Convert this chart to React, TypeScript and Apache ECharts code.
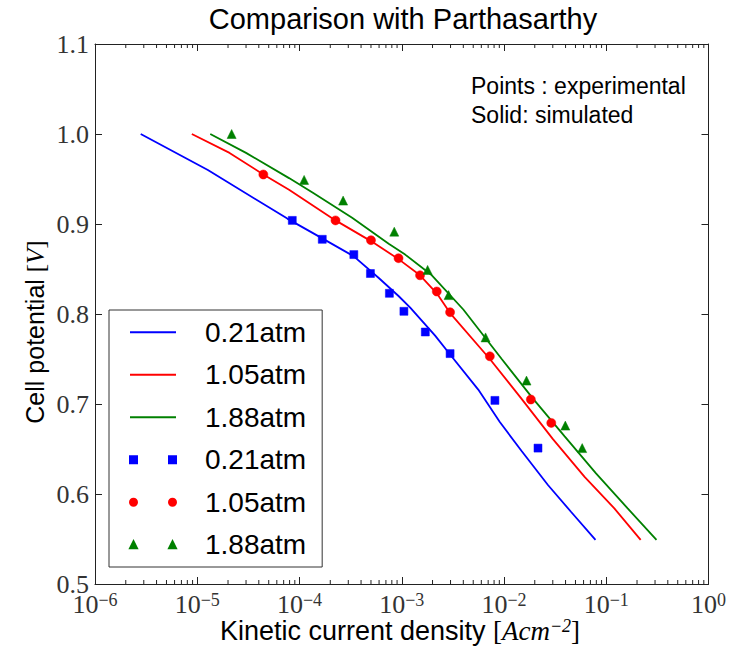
import React, { useEffect, useRef } from "react";
import * as echarts from "echarts";

const SANS = "'Liberation Sans', Arial, Helvetica, sans-serif";
const SERIF = "'Liberation Serif', 'Times New Roman', serif";

const pressureLabels = ["0.21atm", "1.05atm", "1.88atm"];
const seriesColors = ["#0000ff", "#ff0000", "#008000"];

// simulated curves [current density, potential]
const sim021: [number, number][] = [
  [2.8e-6, 1.0], [1.27e-5, 0.96], [7.6e-5, 0.906], [1.67e-4, 0.884], [3.4e-4, 0.864],
  [5.96e-4, 0.84], [9.3e-4, 0.82], [1.21e-3, 0.807], [2.12e-3, 0.776], [2.97e-3, 0.755],
  [5.6e-3, 0.716], [9.1e-3, 0.68], [0.0148, 0.648], [0.0269, 0.61], [0.0454, 0.58], [0.0785, 0.549],
];
const sim105: [number, number][] = [
  [8.85e-6, 1.0], [2.07e-5, 0.979], [4.43e-5, 0.955], [7.9e-5, 0.938], [2.25e-4, 0.904],
  [5.0e-4, 0.881], [9.3e-4, 0.861], [1.51e-3, 0.843], [2.2e-3, 0.823], [2.97e-3, 0.801],
  [7.27e-3, 0.75], [0.0148, 0.706], [0.0301, 0.661], [0.0614, 0.619], [0.12, 0.584], [0.217, 0.549],
];
const sim188: [number, number][] = [
  [1.34e-5, 1.0], [3.0e-5, 0.979], [7.9e-5, 0.951], [1.34e-4, 0.935], [3.27e-4, 0.907],
  [7.45e-4, 0.878], [1.08e-3, 0.866], [1.97e-3, 0.843], [4.0e-3, 0.805], [9.5e-3, 0.75],
  [0.0192, 0.706], [0.0392, 0.664], [0.0794, 0.623], [0.162, 0.584], [0.31, 0.549],
];

// experimental points
const exp021X = [8.5e-5, 1.67e-4, 3.4e-4, 4.94e-4, 7.57e-4, 1.05e-3, 1.7e-3, 2.97e-3, 8.15e-3, 0.0215];
const exp021Y = [0.904, 0.883, 0.866, 0.845, 0.823, 0.803, 0.78, 0.756, 0.704, 0.651];
const exp105X = [4.43e-5, 2.25e-4, 5.0e-4, 9.3e-4, 1.51e-3, 2.2e-3, 2.97e-3, 7.27e-3, 0.0183, 0.029];
const exp105Y = [0.955, 0.904, 0.882, 0.862, 0.843, 0.825, 0.802, 0.753, 0.705, 0.679];
const exp188X = [2.17e-5, 1.11e-4, 2.67e-4, 8.45e-4, 1.79e-3, 2.87e-3, 6.6e-3, 0.0166, 0.0398, 0.0582];
const exp188Y = [1.0, 0.949, 0.926, 0.8915, 0.849, 0.821, 0.774, 0.726, 0.676, 0.651];

// axis setup
const xDecadeExponents = [-6, -5, -4, -3, -2, -1];
const minorMultipliers = [2, 3, 4, 5, 6, 7, 8, 9];
const yMin = 0.5;
const yMax = 1.1;
const yStep = 0.1;

const zip = (xs: number[], ys: number[]) => xs.map((x, i) => [x, ys[i]]);

const lineIcon = "path://M0,0L46,0L46,2L0,2Z";
const legendIcons = [
  "path://M0,0L7,0L7,7L0,7ZM39,0L46,0L46,7L39,7Z",
  "path://M0,3.5A3.5,3.5 0 1,1 7,3.5A3.5,3.5 0 1,1 0,3.5ZM39,3.5A3.5,3.5 0 1,1 46,3.5A3.5,3.5 0 1,1 39,3.5Z",
  "path://M3.5,0L7,7L0,7ZM42.5,0L46,7L39,7Z",
];

export default function App() {
  const ref = useRef<HTMLDivElement>(null);
  useEffect(() => {
    if (!ref.current) return;
    const chart = echarts.init(ref.current, null, { renderer: "svg" });
    const frame = "#222";
    const minorTicks: number[][] = [];
    xDecadeExponents.forEach((e) =>
      minorMultipliers.forEach((m) => minorTicks.push([m * Math.pow(10, e), yMin]))
    );
    const sims = [sim021, sim105, sim188];
    const exps = [zip(exp021X, exp021Y), zip(exp105X, exp105Y), zip(exp188X, exp188Y)];
    const symbols = ["rect", "circle", "triangle"];
    const symbolSizes = [8, 9, 9];

    const series: any[] = [];
    sims.forEach((d, i) =>
      series.push({
        name: "sim " + pressureLabels[i],
        type: "line",
        data: d,
        symbol: "none",
        showSymbol: false,
        lineStyle: { color: seriesColors[i], width: 1.8 },
        itemStyle: { color: seriesColors[i] },
        z: 2,
      })
    );
    exps.forEach((d, i) =>
      series.push({
        name: "exp " + pressureLabels[i],
        type: "scatter",
        data: d,
        symbol: symbols[i],
        symbolSize: symbolSizes[i],
        itemStyle: { color: seriesColors[i], borderColor: seriesColors[i], borderWidth: 0.5, opacity: 1 },
        z: 3,
      })
    );
    series.push({
      type: "custom",
      silent: true,
      data: minorTicks,
      encode: { x: 0, y: 1 },
      renderItem: (params: any, api: any) => {
        const cs = params.coordSys;
        const x = api.coord([api.value(0), yMin])[0];
        const st = { stroke: frame, lineWidth: 1 };
        return {
          type: "group",
          children: [
            { type: "line", shape: { x1: x, y1: cs.y + cs.height, x2: x, y2: cs.y + cs.height - 4 }, style: st },
            { type: "line", shape: { x1: x, y1: cs.y, x2: x, y2: cs.y + 4 }, style: st },
          ],
        };
      },
      z: 5,
    });

    const xLabelRich = {
      b: { fontFamily: SERIF, fontSize: 26, color: "#333", lineHeight: 26 },
      s: { fontFamily: SERIF, fontSize: 18, color: "#333", lineHeight: 18, verticalAlign: "top" },
    };

    chart.setOption({
      animation: false,
      backgroundColor: "#fff",
      title: {
        text: "Comparison with Parthasarthy",
        left: 403,
        textAlign: "center",
        top: 4,
        padding: 0,
        textStyle: { fontFamily: SANS, fontSize: 29, fontWeight: "normal", color: "#000" },
      },
      grid: { left: 95, right: 18, top: 44, bottom: 62, containLabel: false },
      xAxis: [
        {
          type: "log",
          logBase: 10,
          min: 1e-6,
          max: 1,
          position: "bottom",
          axisLine: { show: true, lineStyle: { color: frame, width: 1 } },
          axisTick: { show: true, inside: true, length: 7, lineStyle: { color: frame } },
          splitLine: { show: false },
          axisLabel: {
            margin: 7,
            formatter: (v: number) => {
              const e = Math.round(Math.log10(v));
              return "{b|10}{s|" + (e < 0 ? "\u2212" + -e : String(e)) + "}";
            },
            rich: xLabelRich,
          },
        },
        {
          type: "log",
          logBase: 10,
          min: 1e-6,
          max: 1,
          position: "top",
          axisLine: { show: true, lineStyle: { color: frame, width: 1 } },
          axisTick: { show: true, inside: true, length: 7, lineStyle: { color: frame } },
          splitLine: { show: false },
          axisLabel: { show: false },
        },
      ],
      yAxis: [
        {
          type: "value",
          min: yMin,
          max: yMax,
          interval: yStep,
          position: "left",
          axisLine: { show: true, lineStyle: { color: frame, width: 1 } },
          axisTick: { show: true, inside: true, length: 7, lineStyle: { color: frame } },
          splitLine: { show: false },
          axisLabel: {
            margin: 6,
            formatter: (v: number) => v.toFixed(1),
            fontFamily: SERIF,
            fontSize: 26,
            lineHeight: 26,
            color: "#333",
          },
        },
        {
          type: "value",
          min: yMin,
          max: yMax,
          interval: yStep,
          position: "right",
          axisLine: { show: true, lineStyle: { color: frame, width: 1 } },
          axisTick: { show: true, inside: true, length: 7, lineStyle: { color: frame } },
          splitLine: { show: false },
          axisLabel: { show: false },
        },
      ],
      legend: {
        orient: "vertical",
        left: 109,
        top: 310,
        itemWidth: 46,
        itemHeight: 8,
        itemGap: 0,
        symbolKeepAspect: true,
        padding: [1, 16, 1, 20],
        borderColor: "#333",
        borderWidth: 1,
        backgroundColor: "#fff",
        selectedMode: false,
        formatter: (n: string) => n.slice(4),
        textStyle: { fontFamily: SANS, fontSize: 28, color: "#000", lineHeight: 42.5, padding: [0, 0, 0, 24] },
        data: [
          ...pressureLabels.map((p) => ({ name: "sim " + p, icon: lineIcon })),
          ...pressureLabels.map((p, i) => ({ name: "exp " + p, icon: legendIcons[i] })),
        ],
      },
      graphic: [
        {
          type: "text",
          left: 471,
          top: 71,
          style: {
            text: "Points : experimental\nSolid: simulated",
            fontFamily: SANS,
            fontSize: 23,
            lineHeight: 29,
            fill: "#000",
          },
        },
        {
          type: "text",
          x: 400,
          y: 631,
          style: {
            text: "{a|Kinetic current density }{m|[}{i|Acm}{s|\u22122}{m|]}",
            align: "center",
            verticalAlign: "middle",
            rich: {
              a: { fontFamily: SANS, fontSize: 27, lineHeight: 28, fill: "#000" },
              m: { fontFamily: SERIF, fontSize: 27, lineHeight: 28, fill: "#000" },
              i: { fontFamily: SERIF, fontSize: 27, fontStyle: "italic", lineHeight: 28, fill: "#000" },
              s: { fontFamily: SERIF, fontSize: 18, fontStyle: "italic", lineHeight: 18, verticalAlign: "top", fill: "#000" },
            },
          },
        },
        {
          type: "text",
          x: 35,
          y: 332,
          rotation: Math.PI / 2,
          style: {
            text: "{a|Cell potential }{m|[}{i|V}{m|]}",
            align: "center",
            verticalAlign: "middle",
            rich: {
              a: { fontFamily: SANS, fontSize: 25, lineHeight: 30, fill: "#000" },
              m: { fontFamily: SERIF, fontSize: 25, lineHeight: 30, fill: "#000" },
              i: { fontFamily: SERIF, fontSize: 25, fontStyle: "italic", lineHeight: 30, fill: "#000" },
            },
          },
        },
      ],
      series,
    });
    return () => chart.dispose();
  }, []);
  return <div ref={ref} style={{ width: 729, height: 646, position: "absolute", left: 0, top: 0 }} />;
}
